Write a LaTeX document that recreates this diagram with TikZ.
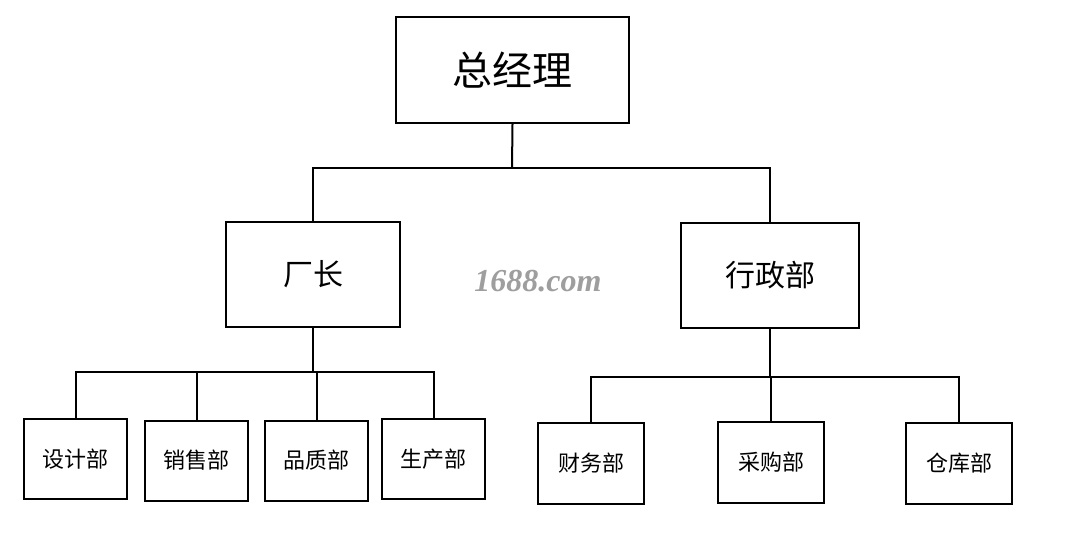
\documentclass[tikz,border=0pt]{standalone}
\usepackage{fontspec}
\setmainfont{Liberation Serif}
\newfontfamily\cjk{Noto Sans CJK SC}

\begin{document}
\begin{tikzpicture}[
    x=1pt, y=-1pt,
    unit/.style={
        draw, line width=2pt, inner sep=0pt,
        align=center, font=\cjk,
    },
    head/.style={unit, minimum width=233pt, minimum height=106pt,
        font=\cjk\fontsize{40}{40}\selectfont},
    branch/.style={unit, minimum width=174pt, minimum height=105pt,
        font=\cjk\fontsize{30}{30}\selectfont},
    dept/.style={unit, minimum width=103pt, minimum height=80pt,
        font=\cjk\fontsize{22}{22}\selectfont},
    link/.style={line width=2pt},
]

\useasboundingbox[fill=white] (0,0) rectangle (1075,559);

% top level
\node[head] (gm) at (512.5,70) {总经理};

% second level
\node[branch] (cz) at (313,274.5) {厂长};
\node[branch, minimum width=178pt] (xz) at (770,275) {行政部};

% departments under the factory director
\node[dept] (sj) at (75.5,459)  {设计部};
\node[dept] (xs) at (196.5,460.5) {销售部};
\node[dept] (pz) at (316.5,460.5) {品质部};
\node[dept] (sc) at (433.5,459)  {生产部};

% departments under administration
\node[dept, minimum width=106pt, minimum height=81pt] (cw) at (591,463.5) {财务部};
\node[dept, minimum width=106pt, minimum height=81pt] (cg) at (771,462)   {采购部};
\node[dept, minimum width=106pt, minimum height=81pt] (ck) at (959,463.5) {仓库部};

% watermark
\node[font=\bfseries\itshape\fontsize{32}{32}\selectfont, text=black!38] (mark) at (538,281) {1688.com};

% connectors
\coordinate (bus1) at (512,168);
\draw[link] (gm.south) -- (bus1);
\draw[link] (cz.north) |- (bus1) -| (xz.north);

\coordinate (bus2) at (313,372);
\draw[link] (cz.south) -- (bus2);
\draw[link] (sj.north) |- (bus2) -| (sc.north);
\foreach \d in {xs, pz}
    \draw[link] (\d.north) -- (\d.north |- bus2);

\coordinate (bus3) at (770,377);
\draw[link] (xz.south) -- (bus3);
\draw[link] (cw.north) |- (bus3) -| (ck.north);
\draw[link] (cg.north) -- (cg.north |- bus3);

\end{tikzpicture}
\end{document}
